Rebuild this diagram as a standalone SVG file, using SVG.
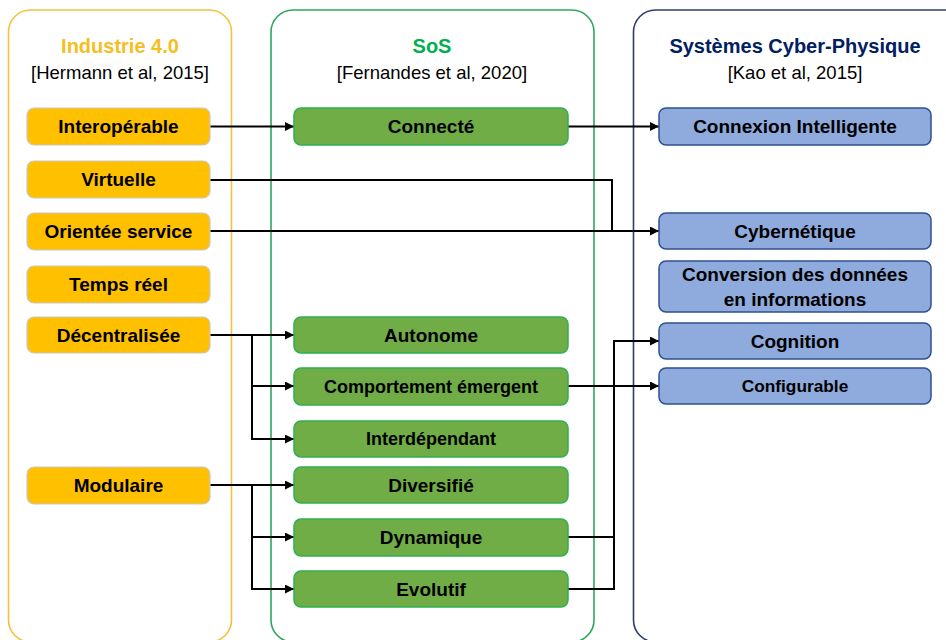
<svg xmlns="http://www.w3.org/2000/svg" width="946" height="640" viewBox="0 0 946 640">
<style>
text{font-family:"Liberation Sans",Arial,sans-serif;text-anchor:middle;dominant-baseline:central}
.title{font-size:20px;font-weight:bold}
.sub{font-size:18.5px;fill:#000}
.lbl{font-size:19px;font-weight:bold;fill:#000}
.ybox{fill:#FFC000;stroke:#C8C8C8;stroke-width:1.2}
.gbox{fill:#70AD47;stroke:#2DB052;stroke-width:1.5}
.bbox{fill:#8FAADC;stroke:#2F528F;stroke-width:1.5}
.con{fill:none;stroke:#000;stroke-width:2}
</style>
<defs>
<marker id="arr" viewBox="0 0 10 10" refX="10" refY="5" markerWidth="10" markerHeight="9" markerUnits="userSpaceOnUse" orient="auto">
<path d="M0,0 L10,5 L0,10 z" fill="#000"/>
</marker>
</defs>
<rect width="946" height="640" fill="#fff"/>
<g id="containers">
<g id="industrie">
<rect x="8.5" y="10" width="223" height="632" rx="22" fill="none" stroke="#F2C23E" stroke-width="1.6"/>
<text class="title" x="120" y="46" fill="#F6BE1F">Industrie 4.0</text>
<text class="sub" x="120" y="72">[Hermann et al, 2015]</text>
</g>
<g id="sos">
<rect x="271" y="10" width="323" height="632" rx="22" fill="none" stroke="#2FA65E" stroke-width="1.6"/>
<text class="title" x="432" y="46" fill="#00B050">SoS</text>
<text class="sub" x="432" y="72">[Fernandes et al, 2020]</text>
</g>
<g id="cps">
<rect x="633.5" y="10" width="340" height="632" rx="22" fill="none" stroke="#2E3D6A" stroke-width="1.6"/>
<text class="title" x="795" y="46" fill="#002060">Systèmes Cyber-Physique</text>
<text class="sub" x="795" y="72">[Kao et al, 2015]</text>
</g>
</g>
<g id="connectors">
<path class="con" d="M210,126.5 H294" marker-end="url(#arr)"/>
<path class="con" d="M568,126.5 H659" marker-end="url(#arr)"/>
<path class="con" d="M210,180 H612 V231"/>
<path class="con" d="M210,231 H659" marker-end="url(#arr)"/>
<path class="con" d="M210,335 H294" marker-end="url(#arr)"/>
<path class="con" d="M252,335 V439 H294" marker-end="url(#arr)"/>
<path class="con" d="M252,386 H294" marker-end="url(#arr)"/>
<path class="con" d="M210,485 H294" marker-end="url(#arr)"/>
<path class="con" d="M252,485 V589 H294" marker-end="url(#arr)"/>
<path class="con" d="M252,537 H294" marker-end="url(#arr)"/>
<path class="con" d="M568,386 H659" marker-end="url(#arr)"/>
<path class="con" d="M568,537 H614"/>
<path class="con" d="M568,589 H614 V341 H659" marker-end="url(#arr)"/>
</g>
<g id="n-interoperable"><rect class="ybox" x="27" y="108" width="183" height="37" rx="7"/><text class="lbl" x="118.5" y="126.5">Interopérable</text></g>
<g id="n-virtuelle"><rect class="ybox" x="27" y="161" width="183" height="37" rx="7"/><text class="lbl" x="118.5" y="179.5">Virtuelle</text></g>
<g id="n-orientee"><rect class="ybox" x="27" y="213" width="183" height="37" rx="7"/><text class="lbl" x="118.5" y="231.5">Orientée service</text></g>
<g id="n-tempsreel"><rect class="ybox" x="27" y="266" width="183" height="37" rx="7"/><text class="lbl" x="118.5" y="284.5">Temps réel</text></g>
<g id="n-decentralisee"><rect class="ybox" x="27" y="317" width="183" height="36" rx="7"/><text class="lbl" x="118.5" y="335">Décentralisée</text></g>
<g id="n-modulaire"><rect class="ybox" x="27" y="467" width="183" height="37" rx="7"/><text class="lbl" x="118.5" y="485.5">Modulaire</text></g>
<g id="n-connecte"><rect class="gbox" x="294" y="108" width="274" height="37" rx="7"/><text class="lbl" x="431" y="126.5">Connecté</text></g>
<g id="n-autonome"><rect class="gbox" x="294" y="317" width="274" height="36" rx="7"/><text class="lbl" x="431" y="335">Autonome</text></g>
<g id="n-comportement"><rect class="gbox" x="294" y="368" width="274" height="37" rx="7"/><text class="lbl" x="431" y="386.5" style="font-size:18px">Comportement émergent</text></g>
<g id="n-interdependant"><rect class="gbox" x="294" y="421" width="274" height="36" rx="7"/><text class="lbl" x="431" y="439" style="font-size:18px">Interdépendant</text></g>
<g id="n-diversifie"><rect class="gbox" x="294" y="467" width="274" height="36" rx="7"/><text class="lbl" x="431" y="485">Diversifié</text></g>
<g id="n-dynamique"><rect class="gbox" x="294" y="519" width="274" height="37" rx="7"/><text class="lbl" x="431" y="537.5">Dynamique</text></g>
<g id="n-evolutif"><rect class="gbox" x="294" y="571" width="274" height="36" rx="7"/><text class="lbl" x="431" y="589">Evolutif</text></g>
<g id="n-connexion"><rect class="bbox" x="659" y="108" width="272" height="37" rx="7"/><text class="lbl" x="795" y="126.5">Connexion Intelligente</text></g>
<g id="n-cybernetique"><rect class="bbox" x="659" y="213" width="272" height="36" rx="7"/><text class="lbl" x="795" y="231">Cybernétique</text></g>
<g id="n-conversion"><rect class="bbox" x="659" y="261" width="272" height="51" rx="7"/><text class="lbl" x="795" y="274">Conversion des données</text><text class="lbl" x="795" y="299">en informations</text></g>
<g id="n-cognition"><rect class="bbox" x="659" y="323" width="272" height="36" rx="7"/><text class="lbl" x="795" y="341">Cognition</text></g>
<g id="n-configurable"><rect class="bbox" x="659" y="368" width="272" height="36" rx="7"/><text class="lbl" x="795" y="386" style="font-size:17.3px">Configurable</text></g>
</svg>
